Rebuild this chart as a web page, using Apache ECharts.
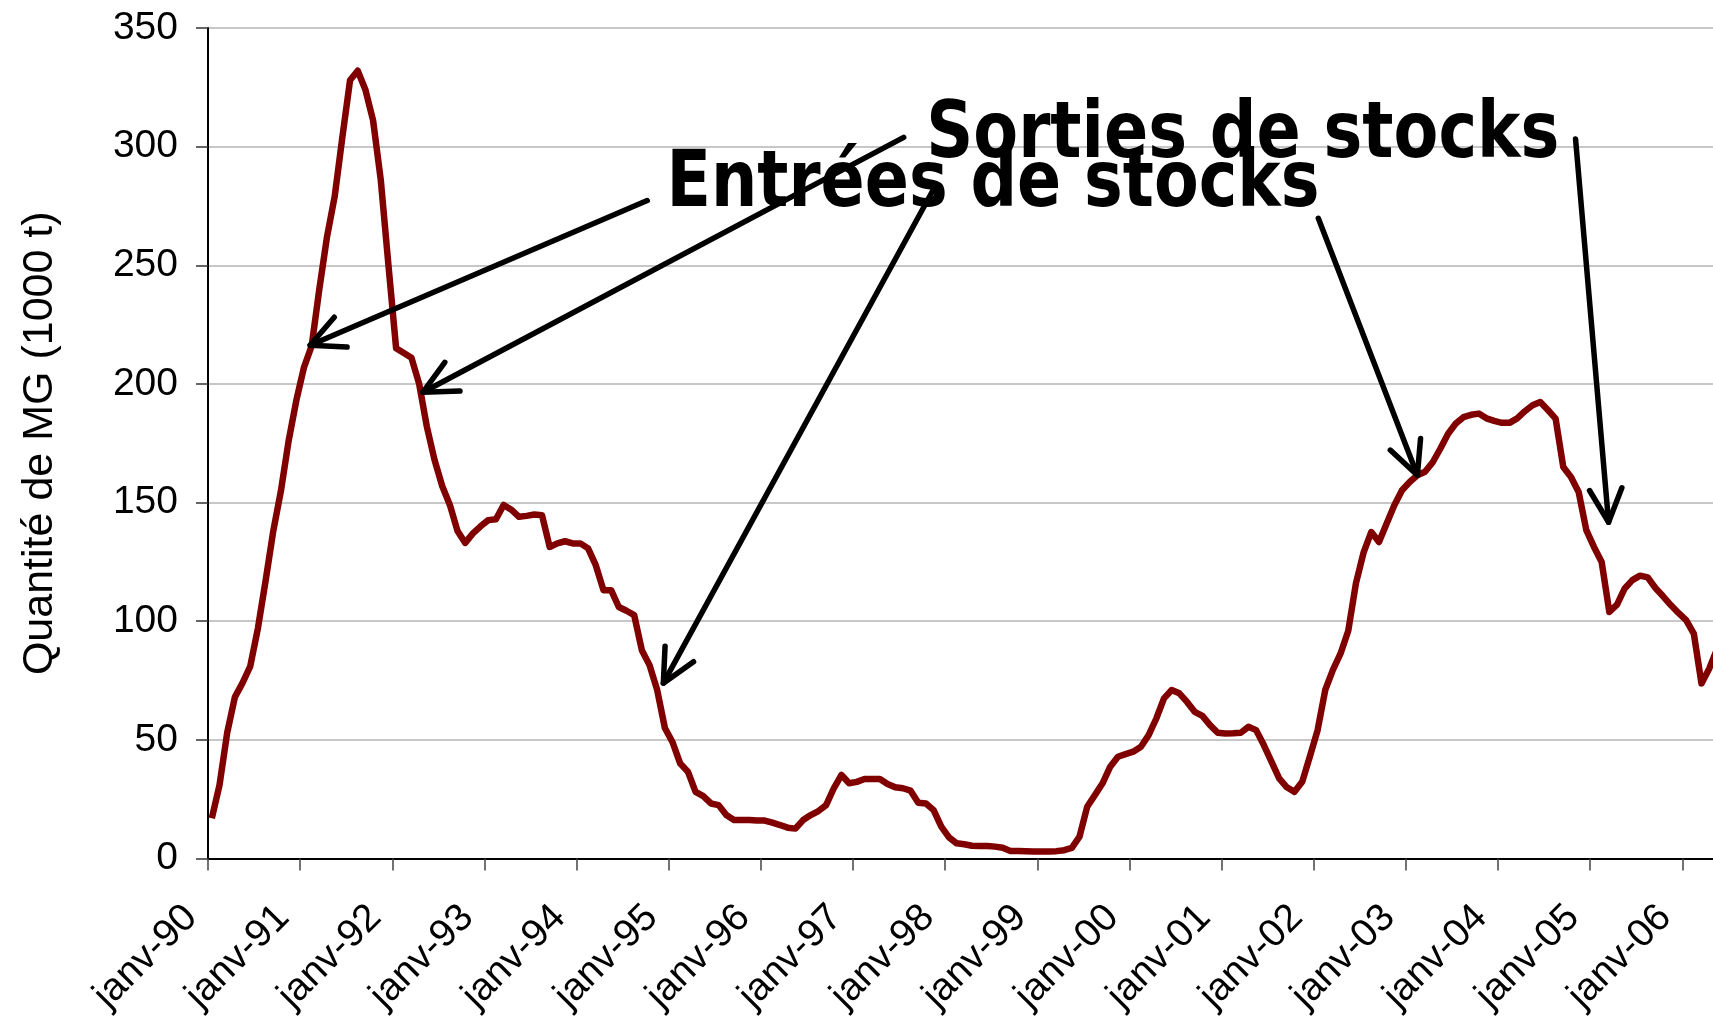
<!DOCTYPE html>
<html>
<head>
<meta charset="utf-8">
<title>Stocks de MG</title>
<script src="https://cdn.jsdelivr.net/npm/echarts@6/dist/echarts.min.js"></script>
<style>
    html, body { margin: 0; padding: 0; background: #fff; }
    #chart { width: 1713px; height: 1016px; }
</style>
</head>
<body>
<div id="chart"></div>
<script>
// libellés des graduations (janvier de chaque année)
var yearLabels = ['janv-90', 'janv-91', 'janv-92', 'janv-93', 'janv-94', 'janv-95', 'janv-96', 'janv-97',
    'janv-98', 'janv-99', 'janv-00', 'janv-01', 'janv-02', 'janv-03', 'janv-04', 'janv-05', 'janv-06'];

// quantité de MG en stock (1000 t), un point par mois depuis janv-90
var stockValues = [
    17, 31, 53, 68, 74, 81, 97, 117, 138, 155, 176, 193,
    207, 216, 240, 262, 279, 304, 328, 332, 324, 311, 286, 250,
    215, 213, 211, 200, 182, 168, 157, 149, 138, 133, 137, 140,
    142.6, 143, 149, 147, 144, 144.4, 145, 144.7, 131.3, 132.8, 133.7, 132.8,
    132.8, 130.7, 123.6, 113.1, 113.1, 106, 104.4, 102.6, 87.8, 81.5, 71, 55,
    49, 40, 36.6, 28.1, 26.3, 23.2, 22.5, 18.3, 16.2, 16.2, 16.2, 16,
    16, 15.1, 14.1, 13, 12.6, 16.2, 18.3, 20, 22.5, 29.6, 35.2, 31.7,
    32.3, 33.5, 33.5, 33.5, 31.4, 30, 29.6, 28.6, 23.5, 23.2, 20.4, 13.4,
    8.9, 6.4, 6, 5.4, 5.3, 5.3, 5, 4.5, 3.2, 3.2, 3.1, 3,
    3, 3, 3.1, 3.5, 4.5, 9.2, 21.8, 26.7, 31.7, 38.7, 42.9, 44,
    45, 47.1, 52, 59, 67.5, 71, 69.6, 66, 61.8, 60.1, 56.2, 53,
    52.7, 52.8, 53, 55.5, 54.1, 47.8, 40.8, 33.8, 30, 28.1, 32.3, 43,
    54, 71, 79.5, 86.4, 96, 116, 129, 137.6, 133.4, 141.2, 148.9, 155.2,
    158.7, 161.5, 163, 167, 172.8, 179, 183.3, 186, 187, 187.5, 185.5, 184.4,
    183.6, 183.6, 185.5, 188.5, 191, 192.4, 189, 185.4, 165, 160.8, 154.5, 138.4,
    131.3, 125, 103.9, 107, 113.8, 117.3, 119.2, 118.5, 114, 110.5, 106.8, 103.5,
    100.5, 94.8, 73.8, 80, 88
];

// flèches : départ et pointe, en coordonnées du graphique [mois, valeur]
var arrowStarts = [[57.2, 277.3], [90.6, 303.9], [94.4, 281.5], [144.6, 269.8], [178.1, 303.2]];
var arrowTips = [[13.3, 216.3], [28.0, 196.5], [59.3, 73.9], [157.5, 161.5], [182.4, 141.7]];

// textes des annotations
var noteTexts = ['Sorties de stocks', 'Entrées de stocks'];
var noteAnchors = [[93.55, 304], [59.7, 283.5]];
var noteWidths = [633, 653];

var seriesData = stockValues.map(function (v, i) {
    return [i + 0.5, v];
});

var chart = echarts.init(document.getElementById('chart'));
var axisFont = '"Liberation Sans", Arial, sans-serif';

var option = {
    animation: false,
    backgroundColor: '#ffffff',
    grid: {
        left: 208,
        right: 0,
        top: 28,
        bottom: 157.5,
        outerBoundsMode: 'none'
    },
    xAxis: {
        type: 'value',
        min: 0,
        max: 196,
        interval: 12,
        axisLine: { show: true, lineStyle: { color: '#000', width: 2 } },
        axisTick: { show: true, length: 12, lineStyle: { color: '#444', width: 1.5 } },
        splitLine: { show: false },
        axisLabel: {
            rotate: 45,
            margin: 36,
            padding: [0, 24, 0, 0],
            fontSize: 39,
            fontFamily: axisFont,
            color: '#000',
            showMaxLabel: false,
            formatter: function (val) {
                if (val % 12 !== 0) return '';
                return yearLabels[val / 12] || '';
            }
        }
    },
    yAxis: {
        type: 'value',
        min: 0,
        max: 350,
        interval: 50,
        name: 'Quantité de MG (1000 t)',
        nameLocation: 'middle',
        nameRotate: 90,
        nameGap: 146,
        nameTextStyle: { fontSize: 43, fontFamily: axisFont, color: '#000' },
        axisLine: { show: true, lineStyle: { color: '#000', width: 2 } },
        axisTick: { show: true, length: 12, lineStyle: { color: '#333', width: 1.5 } },
        splitLine: { show: true, lineStyle: { color: '#b4b4b4', width: 1.5 } },
        axisLabel: {
            margin: 30,
            fontSize: 39,
            fontFamily: axisFont,
            color: '#000'
        }
    },
    series: [
        {
            type: 'line',
            data: seriesData,
            showSymbol: false,
            smooth: false,
            lineStyle: { color: '#800000', width: 6.5, join: 'round' },
            z: 3
        }
    ]
};

chart.setOption(option);

// annotations dessinées par-dessus
var headLen = 37;
var headAngle = 26 * Math.PI / 180;
var noteFont = 'bold 78px "Comic Sans MS", "DejaVu Sans", sans-serif';
var measureCtx = document.createElement('canvas').getContext('2d');
measureCtx.font = noteFont;

var graphics = [];
for (var i = 0; i < noteTexts.length; i++) {
    var pt = chart.convertToPixel({ gridIndex: 0 }, noteAnchors[i]);
    var w = measureCtx.measureText(noteTexts[i]).width;
    graphics.push({
        type: 'text',
        x: pt[0],
        y: pt[1],
        scaleX: noteWidths[i] / w,
        z: 100,
        style: {
            text: noteTexts[i],
            font: noteFont,
            fill: '#000',
            align: 'left',
            verticalAlign: 'middle'
        }
    });
}
for (var j = 0; j < arrowTips.length; j++) {
    var p0 = chart.convertToPixel({ gridIndex: 0 }, arrowStarts[j]);
    var p1 = chart.convertToPixel({ gridIndex: 0 }, arrowTips[j]);
    var ang = Math.atan2(p0[1] - p1[1], p0[0] - p1[0]);
    var h1 = [p1[0] + headLen * Math.cos(ang + headAngle), p1[1] + headLen * Math.sin(ang + headAngle)];
    var h2 = [p1[0] + headLen * Math.cos(ang - headAngle), p1[1] + headLen * Math.sin(ang - headAngle)];
    graphics.push({
        type: 'polyline',
        z: 101,
        shape: { points: [p0, p1] },
        style: { stroke: '#000', lineWidth: 5.5, lineCap: 'round', fill: null }
    });
    graphics.push({
        type: 'polyline',
        z: 101,
        shape: { points: [h1, p1, h2] },
        style: { stroke: '#000', lineWidth: 5.5, lineCap: 'round', lineJoin: 'round', fill: null }
    });
}
chart.setOption({ graphic: graphics });

window.addEventListener('resize', function () {
    chart.resize();
});
</script>
</body>
</html>
